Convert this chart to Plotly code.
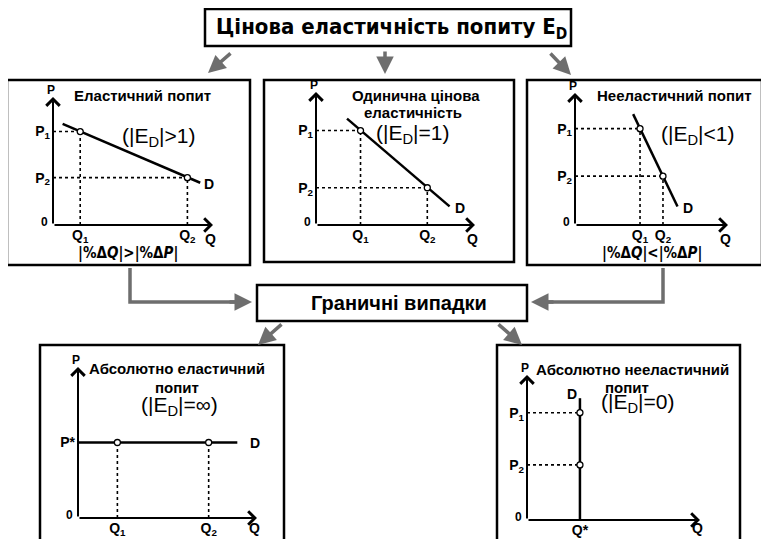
import plotly.graph_objects as go

# The page body adds an 8 px margin, so the figure is 8 px smaller and the
# canvas starts at pixel 8 of the reference.
OFF = 8
W, H = 769 - OFF, 539 - OFF
FONT_C = "DejaVu Sans Condensed, Liberation Sans Narrow, Liberation Sans, Arial"
FONT = "Liberation Sans, Arial"

# ---------------- data ----------------
# Chart 1: elastic demand
D1_Q = [0.6, 9.2]
D1_P = [7.9, 3.3]
PT1_Q = [1.7, 8.4]
PT1_P = [7.3, 3.7]
# Chart 2: unit elasticity
D2_Q = [1.95, 8.4]
D2_P = [8.0, 1.4]
PT2_Q = [2.8, 7.0]
PT2_P = [7.1, 2.8]
# Chart 3: inelastic demand
D3_Q = [3.8, 6.7]
D3_P = [8.4, 1.4]
PT3_Q = [4.25, 5.75]
PT3_P = [7.3, 3.7]
# Chart 4: perfectly elastic
D4_Q = [0.0, 8.9]
D4_P = [5.0, 5.0]
PT4_Q = [2.2, 7.3]
PT4_P = [5.0, 5.0]
# Chart 5: perfectly inelastic
D5_Q = [3.06, 3.06]
D5_P = [0.0, 8.4]
PT5_Q = [3.06, 3.06]
PT5_P = [7.4, 3.8]

Q_TICKS_12 = ["Q<sub>1</sub>", "Q<sub>2</sub>"]
P_TICKS_12 = ["P<sub>1</sub>", "P<sub>2</sub>"]

TITLE = "Цінова еластичність попиту E<sub>D</sub>"
MIDDLE = "Граничні випадки"

fig = go.Figure()

fig.update_layout(
    width=W, height=H, margin=dict(l=0, r=0, t=0, b=0),
    paper_bgcolor="white", plot_bgcolor="white", showlegend=False,
    xaxis=dict(range=[OFF, 769], domain=[0, 1], visible=False, fixedrange=True),
    yaxis=dict(range=[539, OFF], domain=[0, 1], visible=False, fixedrange=True),
)
fig.add_trace(go.Scatter(x=[OFF + 1], y=[OFF + 1], mode="markers", marker=dict(opacity=0), hoverinfo="skip"))

shapes = []
annotations = []


def box(x0, y0, x1, y1, w=2.5):
    shapes.append(dict(type="rect", xref="x", yref="y", x0=x0, y0=y0, x1=x1, y1=y1,
                       line=dict(color="black", width=w), fillcolor="rgba(0,0,0,0)", layer="above"))


def text(x, y, t, size=13, bold=True, family=FONT):
    annotations.append(dict(xref="x", yref="y", x=x, y=y, text=(f"<b>{t}</b>" if bold else t),
                            showarrow=False, xanchor="center", yanchor="middle",
                            font=dict(family=family, size=size, color="black")))


def garrow(x0, y0, x1, y1, width=3.5, head=2):
    annotations.append(dict(xref="x", yref="y", axref="x", ayref="y", x=x1, y=y1, ax=x0, ay=y0,
                            text="", showarrow=True, arrowhead=head, arrowsize=1.0,
                            arrowwidth=width, arrowcolor="#6e6e6e"))


def gline(xs, ys):
    shapes.append(dict(type="path", xref="x", yref="y",
                       path="M " + " L ".join(f"{a},{b}" for a, b in zip(xs, ys)),
                       line=dict(color="#6e6e6e", width=3.5)))


# boxes
box(205, 9, 571, 46)
box(7, 80, 250, 265)
box(264, 80, 514, 262)
box(527, 80, 762, 265)
box(257, 285, 527, 321)
box(40, 345, 284, 560)
box(497, 345, 740, 560)

text(391, 28, TITLE, size=22, family=FONT_C)
text(399, 303, MIDDLE, size=20)

# arrows from title
garrow(232, 52, 208, 73)
garrow(385, 50, 385, 74)
garrow(549, 52, 571, 75)
# connectors into middle box
gline([130, 130, 235], [268, 302, 302])
garrow(228, 302, 252, 302)
gline([663, 663, 548], [268, 302, 302])
garrow(555, 302, 531, 302)
# arrows from middle box
garrow(283, 323, 258, 345)
garrow(497, 323, 522, 345)

# ---------------- mini charts ----------------
charts = [
    dict(o=(53, 225), xe=213, yt=97, DQ=D1_Q, DP=D1_P, PQ=PT1_Q, PP=PT1_P,
         xt=(PT1_Q, Q_TICKS_12), yt_=(PT1_P, P_TICKS_12), dots="both", dlab=(9.3, 3.2), qs=-14),
    dict(o=(316, 225), xe=475, yt=92, DQ=D2_Q, DP=D2_P, PQ=PT2_Q, PP=PT2_P,
         xt=(PT2_Q, Q_TICKS_12), yt_=(PT2_P, P_TICKS_12), dots="both", dlab=(8.6, 1.3), qs=-14),
    dict(o=(575, 225), xe=728, yt=93, DQ=D3_Q, DP=D3_P, PQ=PT3_Q, PP=PT3_P,
         xt=(PT3_Q, Q_TICKS_12), yt_=(PT3_P, P_TICKS_12), dots="both", dlab=(6.9, 1.3), qs=-14),
    dict(o=(78, 518), xe=257, yt=367, DQ=D4_Q, DP=D4_P, PQ=PT4_Q, PP=PT4_P,
         xt=(PT4_Q, Q_TICKS_12), yt_=([PT4_P[0]], ["P*"]), dots="x", dlab=(9.5, 5.0), qs=-10),
    dict(o=(527, 520), xe=700, yt=375, DQ=D5_Q, DP=D5_P, PQ=PT5_Q, PP=PT5_P,
         xt=([PT5_Q[0]], ["Q*"]), yt_=(PT5_P, P_TICKS_12), dots="y", dlab=(2.2, 8.7), qs=-8),
]

for i, c in enumerate(charts):
    n = i + 2
    xa, ya = f"x{n}", f"y{n}"
    ox, oy = c["o"]
    fig.layout[f"xaxis{n}"] = dict(
        domain=[(ox - OFF) / W, (c["xe"] - OFF) / W], range=[0, 10], anchor=ya,
        showgrid=False, zeroline=False, showline=False, ticks="", fixedrange=True,
        tickvals=c["xt"][0], ticktext=[f"<b>{t}</b>" for t in c["xt"][1]],
        tickfont=dict(family=FONT, size=14, color="black"), ticklabelstandoff=0)
    fig.layout[f"yaxis{n}"] = dict(
        domain=[1 - (oy - OFF) / H, 1 - (c["yt"] - OFF) / H], range=[0, 10], anchor=xa,
        showgrid=False, zeroline=False, showline=False, ticks="", fixedrange=True,
        tickvals=c["yt_"][0], ticktext=[f"<b>{t}</b>" for t in c["yt_"][1]],
        tickfont=dict(family=FONT, size=14, color="black"), ticklabelstandoff=2)
    for q, p in zip(c["PQ"], c["PP"]):
        if c["dots"] in ("both", "x"):
            fig.add_trace(go.Scatter(x=[q, q], y=[0, p], mode="lines", xaxis=xa, yaxis=ya,
                                     line=dict(color="black", width=1.6, dash="dot"), hoverinfo="skip"))
        if c["dots"] in ("both", "y"):
            fig.add_trace(go.Scatter(x=[0, q], y=[p, p], mode="lines", xaxis=xa, yaxis=ya,
                                     line=dict(color="black", width=1.6, dash="dot"), hoverinfo="skip"))
    fig.add_trace(go.Scatter(x=c["DQ"], y=c["DP"], mode="lines", xaxis=xa, yaxis=ya,
                             line=dict(color="black", width=2.5), hoverinfo="skip", cliponaxis=False))
    fig.add_trace(go.Scatter(x=c["PQ"], y=c["PP"], mode="markers", xaxis=xa, yaxis=ya, cliponaxis=False,
                             marker=dict(size=6, color="white", line=dict(color="black", width=1.3)),
                             hoverinfo="skip"))
    for (x1, y1) in [(10, 0), (0, 10)]:
        annotations.append(dict(xref=xa, yref=ya, axref=xa, ayref=ya, x=x1, y=y1, ax=0, ay=0,
                                text="", showarrow=True, arrowhead=4, arrowsize=1.3,
                                arrowwidth=2, arrowcolor="black"))
    annotations.append(dict(xref=xa, yref=ya, x=0, y=10, text="<b>P</b>", showarrow=False,
                            xanchor="right", yanchor="bottom", xshift=4, yshift=-2,
                            font=dict(family=FONT, size=12, color="black")))
    annotations.append(dict(xref=xa, yref=ya, x=10, y=0, text="<b>Q</b>", showarrow=False,
                            xanchor="center", yanchor="middle", xshift=-3, yshift=c["qs"],
                            font=dict(family=FONT, size=14, color="black")))
    annotations.append(dict(xref=xa, yref=ya, x=0, y=0, text="<b>0</b>", showarrow=False,
                            xanchor="right", yanchor="middle", xshift=-3, yshift=3,
                            font=dict(family=FONT, size=12, color="black")))
    annotations.append(dict(xref=xa, yref=ya, x=c["dlab"][0], y=c["dlab"][1], text="<b>D</b>",
                            showarrow=False, xanchor="left", yanchor="middle",
                            font=dict(family=FONT, size=14, color="black")))

# panel texts
text(142, 95, "Еластичний попит", size=15)
text(158, 137, "(|E<sub>D</sub>|>1)", size=21, bold=False)
text(128, 253, "|%Δ<i>Q</i>|>|%Δ<i>P</i>|", size=15, family=FONT_C)

text(416, 95, "Одинична цінова", size=15)
text(413, 112, "еластичність", size=15)
text(412, 134, "(|E<sub>D</sub>|=1)", size=21, bold=False)

text(674, 95, "Нееластичний попит", size=15)
text(697, 135, "(|E<sub>D</sub>|<1)", size=21, bold=False)
text(652, 253, "|%Δ<i>Q</i>|<|%Δ<i>P</i>|", size=15, family=FONT_C)

text(177, 368, "Абсолютно еластичний", size=15)
text(177, 387, "попит", size=15)
text(179, 406, "(|E<sub>D</sub>|=∞)", size=21, bold=False)

text(632, 369, "Абсолютно нееластичний", size=15)
text(627, 387, "попит", size=15)
text(637, 403, "(|E<sub>D</sub>|=0)", size=21, bold=False)

fig.update_layout(shapes=shapes, annotations=annotations)
fig.write_html("out.html")
